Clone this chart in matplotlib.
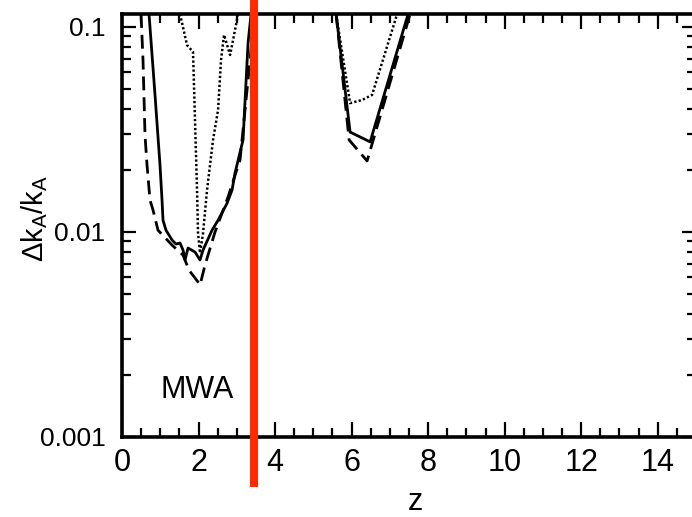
import matplotlib
matplotlib.use('Agg')
import matplotlib.pyplot as plt
import matplotlib.transforms as mtransforms
from matplotlib.ticker import FixedLocator, MultipleLocator, LogLocator, FixedFormatter, NullFormatter

plt.rcParams['font.family'] = ['Liberation Sans', 'DejaVu Sans']
plt.rcParams['mathtext.fontset'] = 'custom'
plt.rcParams['mathtext.rm'] = 'Liberation Sans'
plt.rcParams['mathtext.it'] = 'Liberation Sans'
plt.rcParams['mathtext.default'] = 'rm'

# ---- data ----
# first trough (MWA, low z)
solid1_z = [0.706, 0.863, 0.993, 1.046, 1.072, 1.150, 1.307, 1.412, 1.516, 1.595, 1.647,
            1.725, 1.908, 2.039, 2.118, 2.353, 2.510, 2.745, 2.876, 2.954, 3.163, 3.294, 3.373]
solid1_y = [0.1156, 0.0465, 0.0212, 0.0143, 0.0114, 0.0102, 0.00914, 0.00873, 0.00883, 0.00816, 0.00730,
            0.00835, 0.00798, 0.00730, 0.00816, 0.0102, 0.0114, 0.0138, 0.0160, 0.0194, 0.0281, 0.0835, 0.1156]

dashed1_z = [0.497, 0.549, 0.601, 0.654, 0.732, 0.810, 0.941, 1.307, 1.595, 1.752, 1.987,
             2.039, 2.170, 2.431, 2.771, 3.085, 3.346, 3.451]
dashed1_y = [0.1156, 0.0690, 0.0297, 0.0212, 0.0143, 0.0128, 0.0102, 0.00863, 0.00771, 0.00651, 0.00570,
             0.00551, 0.00690, 0.0100, 0.0148, 0.0225, 0.0690, 0.1156]

dotted1_z = [1.516, 1.699, 1.856, 1.961, 1.987, 2.039, 2.118, 2.222, 2.379, 2.510, 2.588,
             2.667, 2.824, 2.902, 3.033]
dotted1_y = [0.1156, 0.0816, 0.0755, 0.0160, 0.00988, 0.00789, 0.00988, 0.0160, 0.0281, 0.0393, 0.0690,
             0.0914, 0.0730, 0.0863, 0.1156]

# second trough (z ~ 6)
solid2_z = [5.595, 5.961, 6.484, 7.477]
solid2_y = [0.1156, 0.0307, 0.0275, 0.1156]

dashed2_z = [5.595, 5.935, 6.405, 7.529]
dashed2_y = [0.1156, 0.0281, 0.0222, 0.1156]

dotted2_z = [5.595, 5.961, 6.275, 6.536, 7.190]
dotted2_y = [0.1156, 0.0425, 0.0440, 0.0466, 0.1156]

red_line_z = 3.44

y_ticks = [0.001, 0.01, 0.1]
y_tick_labels = ['0.001', '0.01', '0.1']

# ---- figure ----
fig = plt.figure(figsize=(6.92, 5.17), dpi=100)
ax = fig.add_axes([122 / 692, 1 - 437 / 517, (696 - 122) / 692, 423 / 517])
ax.set_yscale('log')
ax.set_xlim(0, 15)
ax.set_ylim(0.001, 0.1156)

lw = 2.0
ax.plot(solid1_z, solid1_y, color='black', lw=lw, ls='-')
ax.plot(dashed1_z, dashed1_y, color='black', lw=lw, ls=(0, (5, 2.5)))
ax.plot(dotted1_z, dotted1_y, color='black', lw=1.8, ls=(0, (0.9, 0.9)))
ax.plot(solid2_z, solid2_y, color='black', lw=lw, ls='-')
ax.plot(dashed2_z, dashed2_y, color='black', lw=lw, ls=(0, (5, 2.5)))
ax.plot(dotted2_z, dotted2_y, color='black', lw=1.8, ls=(0, (0.9, 0.9)))

trans = mtransforms.blended_transform_factory(ax.transData, ax.transAxes)
ax.plot([red_line_z, red_line_z], [437 / 423 + 0.01, -(487 - 437) / 423], transform=trans,
        color='#ff2a00', lw=5.8, clip_on=False, zorder=10, solid_capstyle='butt')

ax.text(0.131, 0.111, 'MWA', transform=ax.transAxes, fontsize=22, ha='center', va='center')

ax.xaxis.set_major_locator(MultipleLocator(2))
ax.xaxis.set_minor_locator(MultipleLocator(0.5))
ax.yaxis.set_major_locator(FixedLocator(y_ticks))
ax.yaxis.set_major_formatter(FixedFormatter(y_tick_labels))
ax.yaxis.set_minor_locator(LogLocator(base=10, subs=[2, 3, 4, 5, 6, 7, 8, 9]))
ax.yaxis.set_minor_formatter(NullFormatter())

ax.tick_params(which='both', direction='in', top=True, right=True, width=1.6)
ax.tick_params(axis='x', which='major', length=11, pad=8, labelsize=22)
ax.tick_params(axis='x', which='minor', length=6.5)
ax.tick_params(axis='y', which='major', length=10, pad=12, labelsize=19)
ax.tick_params(axis='y', which='minor', length=6.5)

for s in ax.spines.values():
    s.set_linewidth(2.6)

ax.set_xlabel('z', fontsize=22)
ax.xaxis.label.set_va('center')
ax.xaxis.set_label_coords((415 - 122) / 574, (437 - 502) / 423)
ax.set_ylabel(r'$\Delta k_A/k_A$', fontsize=21)
ax.yaxis.label.set_va('center')
ax.yaxis.set_label_coords((35 - 122) / 574, (437 - 218) / 423)

fig.savefig('out.png', dpi=100)
